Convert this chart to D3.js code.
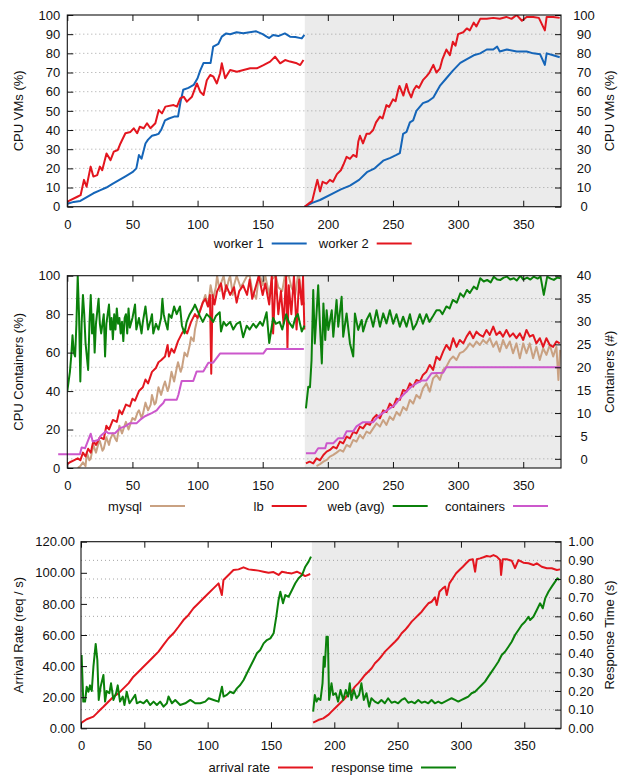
<!DOCTYPE html>
<html lang="en">
<head>
<meta charset="UTF-8">
<style>
  body { margin: 0; background: #fff; }
  svg text { font-family: "Liberation Sans", Arial, sans-serif; }
</style>
</head>
<body>
<svg width="618" height="776"></svg>
<script src="https://d3js.org/d3.v7.min.js"></script>
<script>

// ---- data: [time (s), value] ----
// top: CPU of the VMs (%)
var vmWorker1Run1 = [[0,1.5],[5,2.5],[10,3],[15,5],[20,7],[25,8.5],[30,10],[35,12],[40,14],[45,16],[50,18],[53,20],[55,27],[57,25],[60,33],[62,35],[65,37],[68,37.5],[70,38],[72,40],[75,45],[78,46],[82,47],[85,47],[87,55],[89,61],[93,62],[97,63.5],[100,67],[102,71],[104.6,75],[108,75],[110,75],[112,83.5],[116,85],[118.6,88.7],[122,90.4],[125,90],[130,91],[135,90.5],[140,91],[145,91.5],[150,90],[153,88.7],[155,88],[158,89.6],[162,89],[167,90.4],[171,88.7],[175,88.5],[180,87.8],[182,89.6]];
var vmWorker2Run1 = [[0,2.6],[7.7,5.2],[10.2,6],[12.8,14],[14.8,10.4],[17.9,20.9],[20,15.7],[23,16.5],[25,20.9],[26.8,19],[30.1,27.8],[33.2,24.3],[35.7,28.7],[38.8,29.6],[40.8,33],[44.6,38.3],[48.5,39],[51,40.9],[53.6,38.3],[55.6,41.7],[58.7,40.9],[61.2,43.5],[63.8,40.9],[67.6,43.5],[70.2,50.4],[72.7,48.7],[75.3,52.2],[81.6,53],[84.2,52.2],[86.7,56.5],[89.3,57.4],[91.8,54.8],[95.7,57.4],[99.5,64.3],[102,60],[104.6,58.3],[107.1,66],[109.7,68.7],[112.2,67.8],[114.8,64.3],[117.3,69.6],[118.6,74.8],[121.2,67],[125,71.3],[130.2,70.4],[135.3,71.3],[140.4,72.2],[145.5,72.2],[150.6,73.9],[155.7,75.7],[159.5,78.3],[163.4,74.8],[167.2,76.5],[171,75.7],[176.2,74.8],[178.8,73.9],[181.3,76.5]];
var vmWorker1Run2 = [[182.2,0],[188,2],[194,3.5],[204,7],[210,9],[217,11],[224,14],[230,18],[236,20],[242.5,24],[248,25.5],[252.7,27],[255.3,28],[257.8,38],[260.4,39],[263,44],[265.5,45],[268,50],[273,54],[277,55],[281,57],[286,63],[291,67],[296,71],[301.7,75],[306.8,77],[312,79],[317,80],[322,82],[327,82],[330,83.5],[332,81],[337.4,82],[345,81],[352.6,81],[357.7,80],[363,79.5],[366.6,74],[368,80],[373,79],[378,78]];
var vmWorker2Run2 = [[182.2,0],[186,2],[188,3],[190.5,10],[192,14],[194,8],[196,13],[199,12],[201.6,14],[204,13],[207,17],[210,19],[212,22],[214.4,26],[217,25],[219.5,27],[222,26],[223.4,34],[224.7,37],[227,33],[229.7,38],[232,38],[234.8,40],[237,44],[240,47],[242,46],[245,53],[247,52],[250,56],[252,55],[254,61],[255,63],[258,58],[260.4,64],[262,60],[264,57],[266,61],[268,63],[270,62],[273,66],[275.7,68],[278,70],[281,74],[283.4,70],[286,72],[288,77],[291,82],[293.7,79],[296,86],[298,84],[300,90],[304,91],[306.7,93],[309,92],[312,96],[314,94],[317,98],[322,98],[327,98.5],[332,98],[337,99],[341,98],[345,100],[349,97],[352.6,99],[357.7,99],[362,98.5],[366.6,92],[368,99],[373,99],[378,98.5]];

// middle: CPU of the containers (%) and number of containers
var mysqlRun1 = [[8,0],[10,1],[12,3],[14,1],[15,8],[17,4],[18,5],[20,12],[22,8],[24,13],[25,14],[27,9],[28,10],[30,16],[32,12],[33,15],[35,18],[37,15],[38,14],[40,22],[42,18],[44,22],[45,24],[47,20],[48,22],[50,26],[52,25],[54,29],[55,30],[57,26],[58,28],[60,34],[62,30],[64,33],[65,38],[67,33],[68,34],[70,42],[72,38],[74,43],[75,45],[77,40],[78,42],[80,50],[82,45],[84,52],[85,55],[87,50],[88,52],[90,60],[92,58],[94,64],[95,68],[97,66],[98,72],[100,78],[102,82],[104,86],[106,90],[108,84],[110,95],[112,88],[114,94],[115,100],[117,92],[118,96],[120,100],[122,92],[124,98],[125,100],[127,90],[128,95],[130,100],[133,94],[135,96],[138,100],[140,100],[142,92],[145,88],[147,100],[148,100],[150,95],[152,100],[155,90],[157,98],[160,100],[162,94],[165,92],[167,100],[170,100],[172,94],[175,90],[177,100],[178,100],[180,88],[182,85]];
var lbRun1 = [[0,2],[2,3],[5,4],[8,5],[10,4],[12,8],[14,6],[16,10],[18,8],[20,14],[22,12],[25,16],[28,15],[30,22],[32,20],[35,25],[38,24],[40,30],[42,28],[45,33],[48,32],[50,36],[52,35],[55,40],[58,42],[60,46],[62,44],[65,50],[68,52],[70,55],[72,56],[75,58],[77,64],[78,58],[80,62],[82,60],[85,66],[88,70],[90,72],[92,70],[95,76],[98,80],[100,78],[102,82],[104,86],[106,88],[108,84],[109.5,90],[110.5,49],[111.5,90],[113,85],[115,92],[118,96],[120,88],[122,95],[125,90],[128,94],[130,86],[132,92],[135,95],[138,90],[140,98],[142,88],[145,95],[147,100],[150,90],[152,96],[155,85],[157,100],[158,70],[160,100],[162,80],[164,92],[166,75],[168,100],[169,62],[170,95],[172,80],[174,100],[176,72],[178,98],[180,85],[181,100],[182,72]];
var webRun1 = [[0,40],[2,50],[3,58],[4,69],[5,60],[6,58],[7,75],[8,100],[9,80],[10,45],[11,75],[12,90],[13,80],[14,65],[16,51],[17,75],[18,90],[19,70],[20,80],[21,60],[22,75],[24,88],[25,75],[26,70],[28,80],[29,58],[30,75],[31,80],[32,85],[33,72],[34,78],[35,67],[36,80],[37,72],[38,83],[39,75],[40,78],[41,70],[42,76],[43,66],[44,78],[45,80],[46,70],[47,83],[48,73],[50,78],[52,85],[53,72],[55,78],[57,70],[58,76],[60,84],[62,72],[64,77],[65,80],[66,70],[68,75],[70,72],[72,78],[73,88],[74,80],[75,77],[77,72],[78,80],[80,78],[82,84],[84,80],[86.5,84],[88,74],[90,70],[91.6,76],[94,80],[96.7,83],[98,85],[101.8,79],[104,76],[107,80],[110,78],[112,76],[114,79],[117,81],[118,71],[120,76],[122,74],[125,76],[127.4,72],[130,75],[132.6,76],[135,68],[137.7,74],[140,72],[142.8,75],[145,73],[148,76],[150,74],[153,81],[155,65],[158,78],[160,75],[163,76],[165,72],[168,80],[170,76],[173,73],[175,78],[177,80],[180,71],[182,74]];
var containersRun1 = [[-7,1],[9.7,1],[11,2.5],[13.6,2.3],[15.4,3.6],[18,5.5],[19.5,3.8],[23.8,4.1],[25.9,5.1],[29.7,6],[31.5,5.6],[36.6,5.6],[40.5,6.7],[44.3,7.1],[48.1,7.8],[53.3,7.8],[55.8,8.5],[59.6,9.3],[64.8,10],[68.6,10.6],[71.2,11.5],[73.7,12.2],[75,12.9],[84,12.9],[85.3,14],[87.8,17],[96.7,17],[99.3,19.1],[104.4,19.1],[108.3,21],[112,21],[117.2,23],[150.4,23],[153,24],[181.6,24]];

var mysqlRun2 = [[191.3,1],[194,2],[196.6,3.3],[199.1,4.2],[201.6,5.9],[204.2,6.8],[206.7,8],[209.3,9.4],[211.8,8.5],[214.4,12],[217,11],[219.5,14.6],[222,13.7],[224.6,17.2],[227,15.4],[229.7,18.9],[232.3,18],[234.8,20.6],[237.4,23.2],[240,21.5],[242.5,25],[245,22.4],[247.6,26.7],[250.2,25],[252.7,29.1],[255.3,27.3],[257.8,31.7],[260.4,30],[263,35.4],[265.5,33.5],[268,38],[270.6,36.2],[273,41.4],[275.7,44],[278.2,39.7],[280.8,46.6],[283.4,48.4],[286,45.8],[288.5,51],[291,52.7],[293.7,56.2],[296.2,58],[298.8,56.2],[301.3,59.7],[304,60.5],[306.5,62.3],[309,64.8],[311.6,63],[314.1,65.8],[316.7,64],[319.2,66.6],[321.8,64.8],[324.3,67.5],[327,63],[329.4,65.8],[332,60.5],[334.5,66.6],[337.1,62.3],[339.7,65.8],[342.2,59.7],[344.8,64.8],[347.4,57.1],[350,64.8],[352.5,59.7],[355,64.8],[357.6,57.1],[360.1,63],[362.7,56.2],[365.3,62.3],[367.8,58.8],[370.4,64],[373,58],[375.5,63],[377,45.8],[378.3,61.4]];
var lbRun2 = [[183.2,2.4],[186,3.3],[188.8,2.4],[191.3,5],[194,4],[196.6,6.8],[199.1,8.5],[201.6,9.4],[204.2,11],[206.7,10.2],[209.3,13.7],[211.8,12.8],[214.4,16.3],[217,15.4],[219.5,18.8],[222,18],[224.6,21.5],[227,20.6],[229.7,23.2],[232.3,22.4],[234.8,25.8],[237.4,27.6],[240,25.8],[242.5,30],[245,29.1],[247.6,33.5],[250.2,31.7],[252.7,36.1],[255.3,35.4],[257.8,40.6],[260.4,39.7],[263,44],[265.5,42.3],[268,45.8],[270.6,44.9],[273,48.4],[275.7,50.1],[278.2,53.6],[280.8,51],[283.4,57.9],[286,56.2],[288.5,60.5],[291,64],[293.7,61.4],[296.2,67.5],[298.8,63],[301.3,66.6],[304,64.8],[306.5,68.3],[309,70.9],[311.6,67.5],[314.1,70.9],[316.7,69.2],[319.2,68.3],[321.8,71.8],[324.3,69.2],[327,73.5],[329.4,69.2],[332,70.9],[334.5,68.3],[337.1,71.8],[339.7,68.3],[342.2,70],[344.8,67.5],[347.4,70],[350,66.6],[352.5,71.8],[355,68.3],[357.6,69.2],[360.1,64.8],[362.7,67.5],[365.3,63],[367.8,67.5],[370.4,64],[373,63],[375.5,65.8],[378,64.8]];
var webRun2 = [[183.2,31],[185,42.3],[186.3,42],[187.5,56],[188.8,92.6],[190,64.8],[192.6,95],[194,73.5],[195.4,54.4],[196.6,85.6],[198,66.6],[199.1,82],[200.4,71.8],[203,82],[204.2,68.3],[206.7,87.4],[208,73.5],[210.6,89],[211.8,68.3],[214.4,80.4],[217,64.8],[219.5,58],[220.8,80.4],[223.3,71.8],[226,77],[227.1,71],[229.7,77],[232.3,80.4],[234.8,73.5],[237.4,82],[240,73.5],[242.5,80.4],[245,75.2],[247.6,82],[250.2,75],[252.7,80],[255.3,73.5],[257.8,78.7],[260.4,73.5],[263,80],[265.5,72],[268,75],[270.6,80],[273,75],[275.7,80],[278,76],[280.8,79],[283.4,82],[286,82],[288,80],[291,84],[293.5,83],[296,87.4],[299,86],[301.7,90.8],[304.2,89],[306.8,92.6],[309,91],[312,94.3],[314.5,93],[317,98.7],[319.7,97],[322.3,97.8],[325,96.5],[327.4,99.5],[330,98],[332.5,97.8],[335,99],[337.6,99.5],[340,98],[342.8,98.7],[345,97.5],[347.9,100],[350,98],[353,99],[355.5,98],[358,99.5],[361,98.5],[363.3,99.5],[365.8,90],[368.4,99.5],[371,98.5],[373.5,97.8],[376,99],[378.6,98.7]];
var containersRun2 = [[183.2,1.2],[190,1.2],[192.6,2.3],[198,2.3],[199.1,3.4],[204.2,3.4],[208,4.5],[211.8,4.5],[214.4,6],[219.5,6],[222,7.1],[227,8],[234.8,8],[238.7,9.3],[243.8,10.3],[250.2,11.5],[252.7,12.2],[255.3,13.2],[260.4,14.7],[264.3,15.8],[268,16.5],[272,17.1],[275.7,17.1],[279.6,18.7],[288.5,18.8],[291,20],[378.3,20]];

// bottom: arrival rate (req/s) and response time (s)
var arrivalRun1 = [[0.5,3.6],[4.5,5.8],[9.8,7.5],[12.4,9.6],[15,11.8],[17.7,13.9],[21.6,17.1],[25.6,20.3],[29.6,22.5],[33.5,25.7],[37.5,28.9],[41.4,33.2],[45.4,36.4],[49.3,39.6],[53.3,42.8],[57.2,46],[61.2,49.3],[65.1,53.6],[69.1,57.9],[73,61.1],[77,65.3],[80.9,69.6],[84.9,72.9],[88.8,77.2],[92.8,80.4],[96.7,83.6],[100.7,86.8],[104.6,90],[108.6,93.2],[111.2,85.7],[112.5,95.4],[116.5,98.6],[120.4,101.8],[124.4,102.2],[128.3,103.5],[132.3,102.2],[136.2,101.8],[140.2,101.4],[144.1,100.7],[148.1,100],[152,100.5],[156,98.6],[158.6,100.7],[162.6,100],[166.5,99.6],[170.5,100.7],[174.4,99.2],[177,97.9],[181,99.2]];
var responseRun1 = [[0.5,0.393],[1.8,0.143],[3.2,0.143],[4.5,0.223],[5.8,0.196],[7.1,0.23],[8.5,0.2],[9.8,0.33],[11.6,0.452],[12.9,0.366],[14,0.152],[15.5,0.223],[17.7,0.286],[19,0.143],[20.3,0.2],[22.4,0.188],[23.7,0.241],[25.6,0.152],[27.7,0.188],[29,0.23],[30.8,0.143],[33,0.17],[34.3,0.125],[36.1,0.196],[38.3,0.134],[40.1,0.152],[42.8,0.179],[44.1,0.134],[46.7,0.143],[49.4,0.134],[52,0.152],[54.6,0.125],[57.3,0.143],[59.9,0.125],[62.5,0.143],[65.2,0.116],[67.8,0.134],[69.1,0.17],[71.8,0.134],[74.4,0.152],[78.3,0.125],[82.3,0.134],[86.3,0.152],[90.2,0.134],[94.2,0.134],[98.1,0.143],[100.8,0.161],[104.7,0.152],[108.6,0.143],[111.3,0.223],[112.6,0.17],[115.2,0.179],[117.8,0.196],[120.5,0.188],[123.1,0.214],[125.7,0.232],[128.4,0.259],[131,0.295],[133.6,0.33],[136.3,0.366],[138.9,0.402],[141.5,0.42],[144.2,0.455],[146.8,0.473],[149.5,0.482],[152.1,0.509],[154.2,0.598],[156,0.688],[157.4,0.732],[159.5,0.67],[161.3,0.714],[163.9,0.705],[166.6,0.741],[169.2,0.777],[171.8,0.804],[174.5,0.821],[177.1,0.866],[179.7,0.893],[181.6,0.92]];
var arrivalRun2 = [[183.3,3.6],[187.3,5.3],[191.3,6.4],[195.2,8.6],[197.8,10.7],[200.5,12.9],[203.1,15],[205.7,17.1],[208.4,19.3],[211,22],[213.6,23.6],[216.3,26.8],[218.9,28.9],[221.5,31.5],[224.2,34.3],[226.8,36.4],[229.5,38.6],[232.1,41.8],[234.7,43.9],[237.4,46.5],[240,49.3],[242.6,51.4],[245.3,53.6],[247.9,55.7],[250.5,57.9],[253.2,61.1],[255.8,63.2],[258.5,65.8],[261.1,68.6],[263.7,70.7],[266.4,72.9],[269,75],[271.6,77.8],[274.3,80.4],[276.9,81.4],[279.5,84.2],[280.9,79.3],[283,87.8],[285.6,90],[287.5,91.1],[288.8,85.7],[290.9,93.2],[293.6,96.5],[296.2,99.7],[298.8,101.8],[301.5,103.9],[304.1,106.1],[306.7,108.2],[309.4,108.7],[311.2,100.7],[312.5,108.7],[315.1,109.3],[317.8,110],[320.4,110.8],[323,110.4],[325.7,111.4],[328.3,110.4],[330.9,108.2],[331.7,98.6],[333,108.7],[336.2,108.7],[340.1,107.8],[342.7,103],[345.4,108.2],[349.3,106.5],[353.3,106.1],[357.2,105],[359.9,106.1],[363.8,103.9],[367.8,102.9],[371.7,102.9],[375.7,101.8],[378.3,102.2]];
var responseRun2 = [[183.3,0.089],[184.6,0.178],[186,0.143],[187.3,0.161],[189.1,0.152],[190.7,0.241],[191.7,0.384],[192.5,0.33],[193.8,0.491],[194.9,0.491],[195.9,0.152],[197.8,0.241],[199.1,0.179],[201.2,0.188],[203,0.143],[204.9,0.205],[207,0.152],[209.1,0.205],[210.9,0.17],[212.2,0.241],[213.5,0.152],[215.4,0.205],[217.5,0.161],[219.6,0.179],[221.4,0.241],[223.3,0.152],[225.4,0.188],[227.5,0.116],[229.3,0.161],[232,0.143],[234.6,0.134],[237.2,0.152],[239.9,0.134],[242.5,0.161],[245.2,0.137],[247.8,0.143],[250.4,0.134],[253.1,0.152],[255.7,0.161],[258.4,0.137],[261,0.143],[263.6,0.134],[266.3,0.152],[268.9,0.137],[271.5,0.143],[274.2,0.134],[276.8,0.152],[279.4,0.134],[282.1,0.143],[284.7,0.134],[287.4,0.143],[290,0.152],[292.6,0.161],[295.3,0.152],[297.9,0.143],[300.5,0.152],[303.2,0.161],[305.8,0.17],[308.4,0.188],[311.1,0.196],[313.7,0.214],[316.4,0.232],[319,0.25],[321.6,0.277],[324.3,0.304],[326.9,0.33],[329.5,0.357],[332.2,0.393],[334.8,0.41],[337.5,0.437],[340.1,0.464],[342.7,0.5],[345.4,0.527],[348,0.554],[350.6,0.571],[353.3,0.598],[354.6,0.58],[357.2,0.598],[359.9,0.634],[362.5,0.67],[364.6,0.643],[366.5,0.696],[369.1,0.732],[371.7,0.759],[374.4,0.786],[376.2,0.804],[377.8,0.795]];

// ticks
var timeTicks = [0, 50, 100, 150, 200, 250, 300, 350];
var vmTicks = [0, 10, 20, 30, 40, 50, 60, 70, 80, 90, 100];
var cpuTicks = [0, 20, 40, 60, 80, 100];
var containerTicks = [0, 5, 10, 15, 20, 25, 30, 35, 40];
var rateTicks = [0, 20, 40, 60, 80, 100, 120];
var respTicks = [0, 0.1, 0.2, 0.3, 0.4, 0.5, 0.6, 0.7, 0.8, 0.9, 1.0];

var shadeFrom = 182.3;   // second run is shaded
var blue = "#1565b8", red = "#e3161f", green = "#0b810b", tan = "#c9a182", magenta = "#cc58cc";

var svg = d3.select("svg");

function drawPanel(p) {
  var g = svg.append("g");
  var x = d3.scaleLinear().domain([0, 379]).range([p.left, p.right]);
  var y = d3.scaleLinear().domain(p.yDomain).range([p.bottom, p.top]);
  var y2 = d3.scaleLinear().domain(p.y2Domain).range([p.bottom, p.top]);

  g.append("clipPath").attr("id", "clip" + p.id)
    .append("rect")
      .attr("x", p.left).attr("y", p.top)
      .attr("width", p.right - p.left).attr("height", p.bottom - p.top);

  // grey background for the second run
  g.append("rect")
    .attr("x", x(shadeFrom)).attr("y", p.top)
    .attr("width", p.right - x(shadeFrom)).attr("height", p.bottom - p.top)
    .attr("fill", "#ebebeb");

  // dotted grid, following the right hand axis
  var gridScale = p.gridAxis == "y2" ? y2 : y;
  g.append("g").selectAll("line")
    .data(p.gridTicks)
    .join("line")
      .attr("x1", p.left).attr("x2", p.right)
      .attr("y1", function(d) { return gridScale(d); })
      .attr("y2", function(d) { return gridScale(d); })
      .attr("stroke", "#9a9a9a")
      .attr("stroke-width", 0.9)
      .attr("stroke-dasharray", "1,3");

  // series
  p.series.forEach(function(s) {
    var sc = s.axis == "y2" ? y2 : y;
    var line = d3.line()
      .x(function(d) { return x(d[0]); })
      .y(function(d) { return sc(d[1]); });
    s.runs.forEach(function(run) {
      var path = g.append("path")
        .attr("d", line(run))
        .attr("fill", "none")
        .attr("stroke", s.color)
        .attr("stroke-width", 2)
        .attr("stroke-linejoin", "round");
      if (s.clip !== false) path.attr("clip-path", "url(#clip" + p.id + ")");
    });
  });

  // axes, ticks pointing inwards
  var font = '"Liberation Sans", Arial, sans-serif';
  g.append("g")
    .attr("transform", "translate(0," + p.bottom + ")")
    .call(d3.axisBottom(x).tickValues(timeTicks).tickSize(-6).tickPadding(p.xPad));
  g.append("g")
    .attr("transform", "translate(0," + p.top + ")")
    .call(d3.axisTop(x).tickValues(timeTicks).tickSize(-6).tickFormat(""));
  g.append("g")
    .attr("transform", "translate(" + p.left + ",0)")
    .call(d3.axisLeft(y).tickValues(p.yTicks).tickSize(-6).tickPadding(p.yPad).tickFormat(p.yFormat));
  var rightAxis = g.append("g")
    .attr("transform", "translate(" + p.right + ",0)")
    .call(d3.axisRight(y2).tickValues(p.y2Ticks).tickSize(-6).tickPadding(p.y2Pad).tickFormat(p.y2Format));
  rightAxis.selectAll("text").attr("text-anchor", "middle");

  g.selectAll(".domain").remove();
  g.selectAll(".tick text").attr("font-size", 13).attr("font-family", font).attr("fill", "#111");
  g.selectAll(".tick line").attr("stroke", "#111");

  g.append("rect")
    .attr("x", p.left).attr("y", p.top)
    .attr("width", p.right - p.left).attr("height", p.bottom - p.top)
    .attr("fill", "none").attr("stroke", "#111").attr("stroke-width", 1.1);

  // axis titles
  var mid = (p.top + p.bottom) / 2;
  g.append("text")
    .attr("transform", "translate(18," + mid + ") rotate(-90)")
    .attr("text-anchor", "middle").attr("dy", "0.35em")
    .attr("font-size", 13).attr("fill", "#111")
    .text(p.yTitle);
  g.append("text")
    .attr("transform", "translate(609.5," + mid + ") rotate(-90)")
    .attr("text-anchor", "middle").attr("dy", "0.35em")
    .attr("font-size", 13).attr("fill", "#111")
    .text(p.y2Title);

  // legend: label then a line sample
  p.legend.forEach(function(e) {
    g.append("line")
      .attr("x1", e.end - 35).attr("x2", e.end)
      .attr("y1", p.legendY).attr("y2", p.legendY)
      .attr("stroke", e.color).attr("stroke-width", 2);
    g.append("text")
      .attr("x", e.end - 43).attr("y", p.legendY).attr("dy", "0.35em")
      .attr("text-anchor", "end")
      .attr("font-size", 13).attr("fill", "#111")
      .text(e.label);
  });
}

drawPanel({
  id: "vm", left: 67.3, right: 561, top: 15, bottom: 206.7,
  yDomain: [0, 100], y2Domain: [0, 100],
  yTicks: vmTicks, y2Ticks: vmTicks, yFormat: d3.format("d"), y2Format: d3.format("d"),
  gridAxis: "y2", gridTicks: vmTicks.slice(1, -1),
  xPad: 13, yPad: 7, y2Pad: 23,
  yTitle: "CPU VMs (%)", y2Title: "CPU VMs (%)",
  series: [
    {runs: [vmWorker1Run1, vmWorker1Run2], axis: "y", color: blue},
    {runs: [vmWorker2Run1, vmWorker2Run2], axis: "y", color: red}
  ],
  legendY: 243.5,
  legend: [
    {label: "worker 1", color: blue, end: 306.7},
    {label: "worker 2", color: red, end: 411.7}
  ]
});

drawPanel({
  id: "ct", left: 67.3, right: 561, top: 275.7, bottom: 468,
  yDomain: [0, 100], y2Domain: [-2, 40],
  yTicks: cpuTicks, y2Ticks: containerTicks, yFormat: d3.format("d"), y2Format: d3.format("d"),
  gridAxis: "y2", gridTicks: containerTicks.slice(0, -1),
  xPad: 13, yPad: 7, y2Pad: 23,
  yTitle: "CPU Containers (%)", y2Title: "Containers (#)",
  series: [
    {runs: [mysqlRun1, mysqlRun2], axis: "y", color: tan},
    {runs: [lbRun1, lbRun2], axis: "y", color: red},
    {runs: [webRun1, webRun2], axis: "y", color: green},
    {runs: [containersRun1, containersRun2], axis: "y2", color: magenta, clip: false}
  ],
  legendY: 506,
  legend: [
    {label: "mysql", color: tan, end: 185},
    {label: "lb", color: red, end: 306.7},
    {label: "web (avg)", color: green, end: 427.7},
    {label: "containers", color: magenta, end: 548}
  ]
});

drawPanel({
  id: "rt", left: 81, right: 561, top: 541.7, bottom: 728.3,
  yDomain: [0, 120], y2Domain: [0, 1],
  yTicks: rateTicks, y2Ticks: respTicks, yFormat: d3.format(".2f"), y2Format: d3.format(".2f"),
  gridAxis: "y2", gridTicks: respTicks.slice(1, -1),
  xPad: 12, yPad: 6, y2Pad: 20,
  yTitle: "Arrival Rate (req / s)", y2Title: "Response Time (s)",
  series: [
    {runs: [arrivalRun1, arrivalRun2], axis: "y", color: red},
    {runs: [responseRun1, responseRun2], axis: "y2", color: green}
  ],
  legendY: 767.5,
  legend: [
    {label: "arrival rate", color: red, end: 313},
    {label: "response time", color: green, end: 456}
  ]
});

</script>
</body>
</html>
